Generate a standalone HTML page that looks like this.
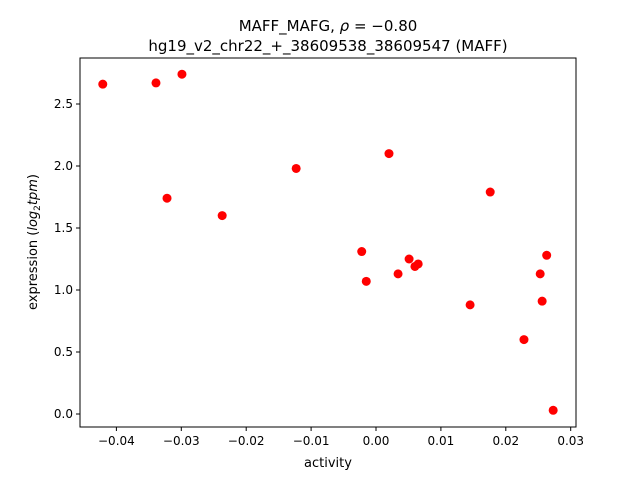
<!DOCTYPE html>
<html><head><meta charset="utf-8"><style>
body{margin:0;background:#fff;}
svg text{font-family:"DejaVu Sans","Liberation Sans",sans-serif;fill:#000;}
</style></head><body>
<svg id="chart" width="640" height="480" xmlns="http://www.w3.org/2000/svg">
<rect width="640" height="480" fill="#fff"/>
<text x="328" y="31" text-anchor="middle" font-size="15">MAFF_MAFG, <tspan font-style="italic">ρ</tspan> = −0.80</text>
<text x="328" y="51" text-anchor="middle" font-size="15">hg19_v2_chr22_+_38609538_38609547 (MAFF)</text>
<g id="axes"></g>
<text x="328" y="467" text-anchor="middle" font-size="13">activity</text>
<text transform="translate(37,242) rotate(-90)" text-anchor="middle" font-size="13">expression (<tspan font-style="italic">log</tspan><tspan font-size="9" dy="3">2</tspan><tspan dy="-3" font-style="italic">tpm</tspan>)</text>
</svg>
<script>
const xs=[-0.0421,-0.0339,-0.0299,-0.0322,-0.0237,-0.0123,0.0020,-0.0022,-0.0015,0.0034,0.0051,0.0060,0.0065,0.0145,0.0176,0.0228,0.0253,0.0256,0.0263,0.0273];
const ys=[2.66,2.67,2.74,1.74,1.60,1.98,2.10,1.31,1.07,1.13,1.25,1.19,1.21,0.88,1.79,0.60,1.13,0.91,1.28,0.03];
const xTicks=[-0.04,-0.03,-0.02,-0.01,0.00,0.01,0.02,0.03];
const xTickLabels=["−0.04","−0.03","−0.02","−0.01","0.00","0.01","0.02","0.03"];
const yTicks=[0,0.5,1,1.5,2,2.5];
const yTickLabels=["0.0","0.5","1.0","1.5","2.0","2.5"];
const L=80,R=576,T=58,B=427;
const xS=v=>376+v*6490;
const yS=v=>414-v*124;
const NS="http://www.w3.org/2000/svg";
const g=document.getElementById('axes');
function mk(t,a){const e=document.createElementNS(NS,t);for(const k in a)e.setAttribute(k,a[k]);g.appendChild(e);return e;}
xs.forEach((x,i)=>{
 const c=mk('circle',{cx:xS(x),cy:yS(ys[i]),r:4.5,fill:'#ff0000'});
 
 
});
const f=mk('rect',{x:L,y:T,width:R-L,height:B-T,fill:'none',stroke:'#000','stroke-width':1});


xTicks.forEach((v,i)=>{
 const x=xS(v);
 const l=mk('line',{x1:x,x2:x,y1:B,y2:B+4,stroke:'#000'});
 
 
 const t=mk('text',{x:x,y:B+18,'text-anchor':'middle','font-size':'12'});
 t.textContent=xTickLabels[i];
 
 
});
yTicks.forEach((v,i)=>{
 const y=yS(v);
 const l=mk('line',{x1:L-4,x2:L,y1:y,y2:y,stroke:'#000'});
 
 
 const t=mk('text',{x:L-7,y:y+4,'text-anchor':'end','font-size':'12'});
 t.textContent=yTickLabels[i];
 
 
});
</script>
</body></html>
